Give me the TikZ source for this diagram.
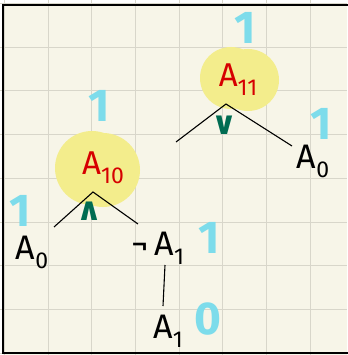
\documentclass[tikz,border=0pt]{standalone}
\usepackage{fontspec}
\setmainfont{Fira Sans}
\newfontfamily\opfont{DejaVu Sans}
\usetikzlibrary{positioning}

\definecolor{paper}{RGB}{247,245,232}
\definecolor{gridline}{RGB}{216,214,202}
\definecolor{blob}{RGB}{243,237,140}
\definecolor{markred}{RGB}{214,0,0}
\definecolor{markgreen}{RGB}{0,108,82}
\definecolor{markcyan}{RGB}{125,220,235}

\newcommand{\lowsub}[1]{\raisebox{-9pt}{\fontsize{23}{23}\selectfont #1}}

\begin{document}
\begin{tikzpicture}[
    x=1pt, y=-1pt,
    every node/.style={inner sep=0pt, outer sep=0pt},
    atom/.style={font=\fontsize{34}{34}\selectfont, text=black},
    formula/.style={font=\fontsize{33}{33}\selectfont, text=markred},
    value/.style={font=\fontsize{46}{46}\selectfont\bfseries, text=markcyan, text height=32pt, text depth=0pt},
    connective/.style={font=\fontsize{32}{32}\selectfont\opfont\bfseries, text=markgreen},
    branch/.style={line width=1.1pt, black}
]
\useasboundingbox (0,0) rectangle (347,355);

% paper and grid
\fill[white] (0,0) rectangle (347,355);
\fill[paper] (3,5) rectangle (347,355);
\foreach \gx in {4.4,48.1,...,350} \draw[gridline, line width=0.9pt] (\gx,0) -- (\gx,355);
\foreach \gy in {3.5,47.2,...,355} \draw[gridline, line width=0.9pt] (0,\gy) -- (347,\gy);
\draw[line width=2pt] (350,5) -- (3,5) -- (3,353) -- (350,353);

% highlights
\fill[blob] (231,78) circle (31) (248,80) circle (31);
\fill[blob] (92,168) circle (37) (103,170) circle (37);

% upper tree: A11 = v
\node[value] (val11) at (245,28) {1};
\node[formula] (f11) at (238,80) {A\lowsub{11}};
\node[connective] (or11) at (224,125) {∨};
\coordinate (apex11) at (226,104);
\coordinate (left11) at (176,142);
\coordinate (right11) at (292,146);
\node[atom] (a0r) at (313,161) {A\lowsub{0}};
\node[value] (valr) at (321,124) {1};

% lower tree: A10 = ^
\node[value] (val10) at (99,106) {1};
\node[formula] (f10) at (103,168) {A\lowsub{10}};
\node[connective] (and10) at (89,211) {∧};
\coordinate (apex10) at (93,192);
\coordinate (left10) at (54,227);
\coordinate (right10) at (138,224);
\node[atom] (a0l) at (32,252) {A\lowsub{0}};
\node[value] (vall) at (20,210) {1};
\node[atom] (na1) at (158,248) {¬\,A\lowsub{1}};
\node[value] (valn) at (209,237) {1};
\coordinate (stemtop) at (165,265);
\coordinate (stembot) at (163,306);
\node[atom] (a1) at (168,331) {A\lowsub{1}};
\node[value] (vala1) at (208,318) {0};

% branches
\draw[branch] (left11) -- (apex11) -- (right11);
\draw[branch] (left10) -- (apex10) -- (right10);
\draw[branch] (stemtop) -- (stembot);

\end{tikzpicture}
\end{document}
